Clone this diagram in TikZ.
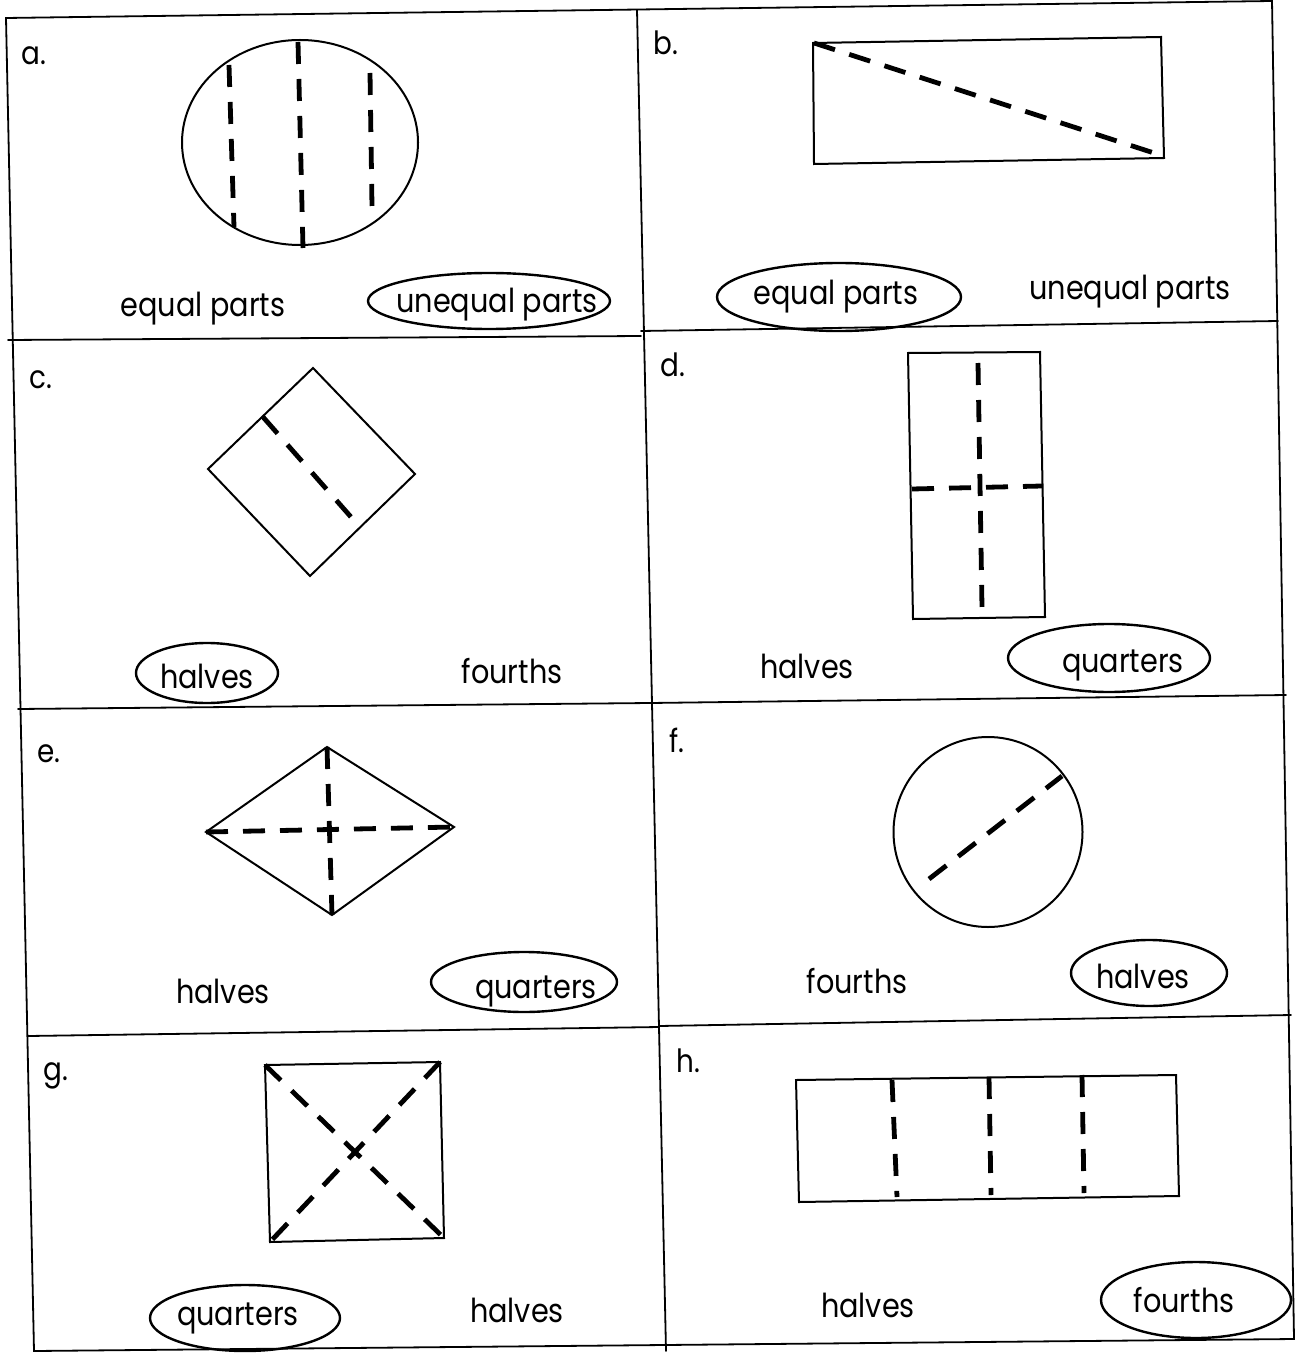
\documentclass[tikz,border=0pt]{standalone}
\usepackage{fontspec}
\setmainfont{Poppins}[FakeStretch=0.87]
\tikzset{
  gridLine/.style={line width=0.9pt,line cap=round},
  shapeLine/.style={line width=1pt,line join=miter},
  cutLine/.style={line width=2.4pt,dash pattern=on 11pt off 7.5pt},
  cellTag/.style={inner sep=0pt,anchor=base west,font=\fontsize{16}{19}\selectfont},
  choice/.style={inner sep=0pt,anchor=base,font=\fontsize{16.5}{20}\selectfont},
  loopLine/.style={line width=1.2pt},
}
\begin{document}
\begin{tikzpicture}[x=0.5pt,y=-0.5pt]
\useasboundingbox (0,0) rectangle (1299,1353);

% Worksheet grid, slightly skewed like the scan.
\draw[gridLine] (6,18) -- (1272,1) -- (1294,1339) -- (34,1351) -- cycle;
\draw[gridLine] (637,10) -- (666,1351);
\draw[gridLine] (8,340) -- (641,336);
\draw[gridLine] (641,331) -- (1278,321);
\draw[gridLine] (18,709) -- (650,703);
\draw[gridLine] (650,703) -- (1286,695);
\draw[gridLine] (28,1036) -- (659,1027);
\draw[gridLine] (659,1026) -- (1291,1015);

% Cell tags
\node[cellTag] (tagA) at (21,65)   {a.};
\node[cellTag] (tagB) at (653,55)  {b.};
\node[cellTag] (tagC) at (29,388)  {c.};
\node[cellTag] (tagD) at (660,377) {d.};
\node[cellTag] (tagE) at (37,762)  {e.};
\node[cellTag] (tagF) at (669,752) {f.};
\node[cellTag] (tagG) at (43,1080) {g.};
\node[cellTag] (tagH) at (676,1072) {h.};

% a. circle with three cuts
\draw[shapeLine] (300,142.5) ellipse [x radius=118, y radius=102.5];
\foreach \xa/\ya/\xb/\yb in {229/65/234/227, 298/42/303/248, 370/73/372/207}
  \draw[cutLine] (\xa,\ya) -- (\xb,\yb);

% b. rectangle cut on the diagonal
\draw[shapeLine] (813,43) -- (1161,37) -- (1164,158) -- (814,164) -- cycle;
\draw[cutLine] (814,43) -- (1154,153);

% c. tilted square cut in two
\draw[shapeLine] (313,368) -- (415,474) -- (310,576) -- (208,469) -- cycle;
\draw[cutLine] (263,417) -- (351,517);

% d. tall rectangle cut in four
\draw[shapeLine] (908,353) -- (1040,352) -- (1045,617) -- (913,619) -- cycle;
\draw[cutLine] (978,363) -- (982,608);
\draw[cutLine] (912,489) -- (1042,486);

% e. rhombus cut in four
\draw[shapeLine] (327,747) -- (454,827) -- (332,915) -- (206,832) -- cycle;
\draw[cutLine] (327,747) -- (332,915);
\draw[cutLine] (206,832) -- (454,827);

% f. circle cut in two
\draw[shapeLine] (988,832) ellipse [x radius=94.5, y radius=95];
\draw[cutLine] (929,879) -- (1062,776);

% g. square cut on both diagonals
\draw[shapeLine] (265,1065) -- (440,1062) -- (444,1238) -- (270,1242) -- cycle;
\draw[cutLine] (265,1065) -- (444,1238);
\draw[cutLine] (440,1062) -- (270,1242);

% h. long rectangle cut in four
\draw[shapeLine] (796,1080) -- (1176,1075) -- (1179,1196) -- (799,1202) -- cycle;
\foreach \xa/\ya/\xb/\yb in {892/1080/897/1197, 989/1077/991/1195, 1082/1075/1084/1193}
  \draw[cutLine] (\xa,\ya) -- (\xb,\yb);

% Answer choices
\node[choice] (aEqual)    at (203,317)  {equal parts};
\node[choice] (aUnequal)  at (497,313)  {unequal parts};
\node[choice] (bEqual)    at (836,305)  {equal parts};
\node[choice] (bUnequal)  at (1130,300) {unequal parts};
\node[choice] (cHalves)   at (207,688)  {halves};
\node[choice] (cFourths)  at (512,683)  {fourths};
\node[choice] (dHalves)   at (807,678)  {halves};
\node[choice] (dQuarters) at (1123,672) {quarters};
\node[choice] (eHalves)   at (223,1003) {halves};
\node[choice] (eQuarters) at (536,998)  {quarters};
\node[choice] (fFourths)  at (857,993)  {fourths};
\node[choice] (fHalves)   at (1143,988) {halves};
\node[choice] (gQuarters) at (238,1325) {quarters};
\node[choice] (gHalves)   at (517,1322) {halves};
\node[choice] (hHalves)   at (868,1317) {halves};
\node[choice] (hFourths)  at (1184,1312) {fourths};

% Hand-drawn loops round the chosen answers
\draw[loopLine] (489,301)  ellipse [x radius=121, y radius=28];
\draw[loopLine] (839,297)  ellipse [x radius=122, y radius=34];
\draw[loopLine] (207,673)  ellipse [x radius=71,  y radius=30];
\draw[loopLine] (1109,658) ellipse [x radius=101, y radius=34];
\draw[loopLine] (524,982)  ellipse [x radius=93,  y radius=30];
\draw[loopLine] (1149,973) ellipse [x radius=78,  y radius=33];
\draw[loopLine] (245,1318) ellipse [x radius=95,  y radius=33];
\draw[loopLine] (1196,1300) ellipse [x radius=95, y radius=38];

\end{tikzpicture}
\end{document}
